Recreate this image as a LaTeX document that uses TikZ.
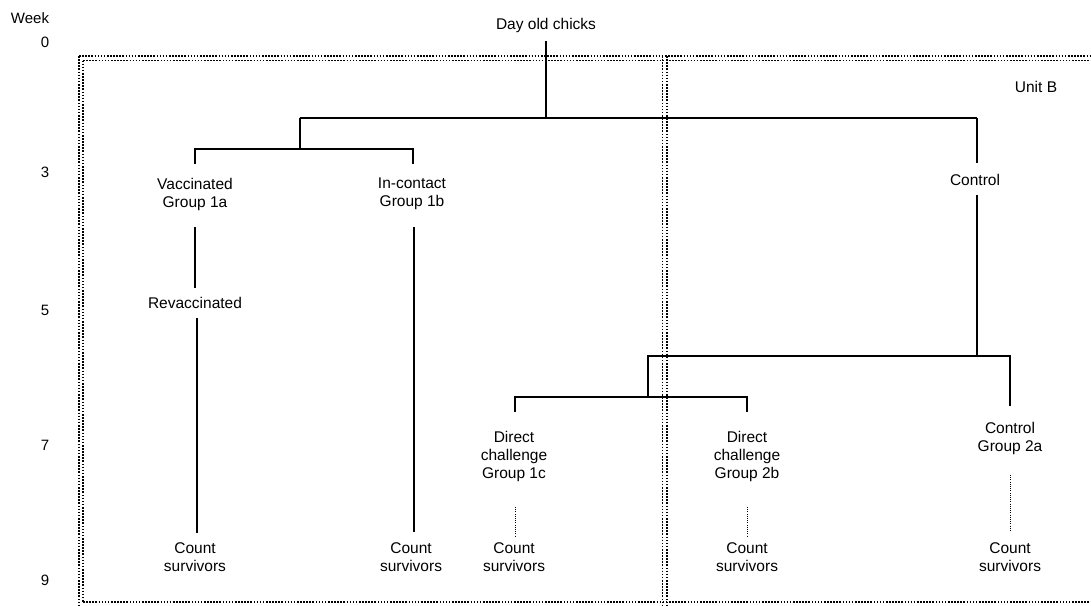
\documentclass[tikz,border=0pt]{standalone}
\usepackage{fontspec}
\setmainfont{Liberation Sans}
\begin{document}
\begin{tikzpicture}[x=1pt,y=-1pt,
  lbl/.style={inner sep=0pt, align=center, font=\fontsize{15.5}{18}\selectfont},
  wk/.style={inner sep=0pt, font=\fontsize{15}{18}\selectfont},
  link/.style={line width=1.3pt},
  dotlink/.style={line width=0.9pt, dash pattern=on 0.9pt off 1.3pt},
  unitline/.style={line width=1.7pt, dash pattern=on 1.6pt off 1.5pt}]
\useasboundingbox (0,0) rectangle (1091,605);
\clip (0,0) rectangle (1091,605);
% unit boxes (double dotted outlines)
\draw[unitline] (79,56) -- (1095,56);
\draw[unitline] (83,60.5) -- (1095,60.5);
\draw[unitline] (83,602) -- (1095,602);
\draw[unitline] (79,56) -- (79,610);
\draw[unitline] (83,60.5) -- (83,602);
\draw[unitline] (662.5,56) -- (662.5,610);
\draw[unitline] (667,56) -- (667,610);
\node[lbl] (unitb) at (1036,87) {Unit B};
% week axis
\node[wk] (week) at (30,18) {Week};
\node[wk] (w0) at (45,42) {0};
\node[wk] (w3) at (45,172) {3};
\node[wk] (w5) at (45,310) {5};
\node[wk] (w7) at (45,445) {7};
\node[wk] (w9) at (45,580) {9};
% nodes
\node[lbl] (day) at (546,25) {Day old chicks};
\node[lbl] (vac) at (195,194) {Vaccinated\\Group 1a};
\node[lbl] (inc) at (412,194) {In-contact\\Group 1b};
\node[lbl] (ctl) at (975,180) {Control};
\node[lbl] (rev) at (195,303) {Revaccinated};
\node[lbl] (c1a) at (195,557) {Count\\survivors};
\node[lbl] (c1b) at (411,557) {Count\\survivors};
\node[lbl] (g1c) at (514,456) {Direct\\challenge\\Group 1c};
\node[lbl] (g2b) at (747,456) {Direct\\challenge\\Group 2b};
\node[lbl] (g2a) at (1010,438) {Control\\Group 2a};
\node[lbl] (c1c) at (514,557) {Count\\survivors};
\node[lbl] (c2b) at (747,557) {Count\\survivors};
\node[lbl] (c2a) at (1010,557) {Count\\survivors};
% junction coordinates
\coordinate (d0) at (546,41);
\coordinate (j0) at (546,118);
\coordinate (jl) at (300,118);
\coordinate (jr) at (977,118);
\coordinate (jl2) at (300,149);
\coordinate (va) at (195,149);
\coordinate (ia) at (413,149);
\coordinate (vb) at (195,164);
\coordinate (ib) at (413,164);
\coordinate (ctop) at (977,163);
\coordinate (cbot) at (977,195);
\coordinate (cj) at (977,356);
\coordinate (mj) at (648,356);
\coordinate (aj) at (1010,356);
\coordinate (ab) at (1010,406);
\coordinate (mj2) at (648,397);
\coordinate (ca) at (515,397);
\coordinate (cb) at (747,397);
\coordinate (cab) at (515,412);
\coordinate (cbb) at (747,412);
\coordinate (v1) at (195,227);
\coordinate (v2) at (195,288);
\coordinate (v3) at (197,318);
\coordinate (v4) at (197,533);
\coordinate (i1) at (414,227);
\coordinate (i2) at (414,532);
\coordinate (p1) at (515,507);
\coordinate (p2) at (515,537);
\coordinate (q1) at (747,507);
\coordinate (q2) at (747,537);
\coordinate (r1) at (1010,475);
\coordinate (r2) at (1010,532);
% connectors
\draw[link] (d0) -- (j0);
\draw[link] (jl) -- (jr);
\draw[link] (jl) -- (jl2);
\draw[link] (vb) -- (va) -- (ia) -- (ib);
\draw[link] (jr) -- (ctop);
\draw[link] (cbot) -- (cj);
\draw[link] (mj2) -- (mj) -- (aj) -- (ab);
\draw[link] (cab) -- (ca) -- (cb) -- (cbb);
\draw[link] (v1) -- (v2);
\draw[link] (v3) -- (v4);
\draw[link] (i1) -- (i2);
\draw[dotlink] (p1) -- (p2);
\draw[dotlink] (q1) -- (q2);
\draw[dotlink] (r1) -- (r2);
\end{tikzpicture}
\end{document}
